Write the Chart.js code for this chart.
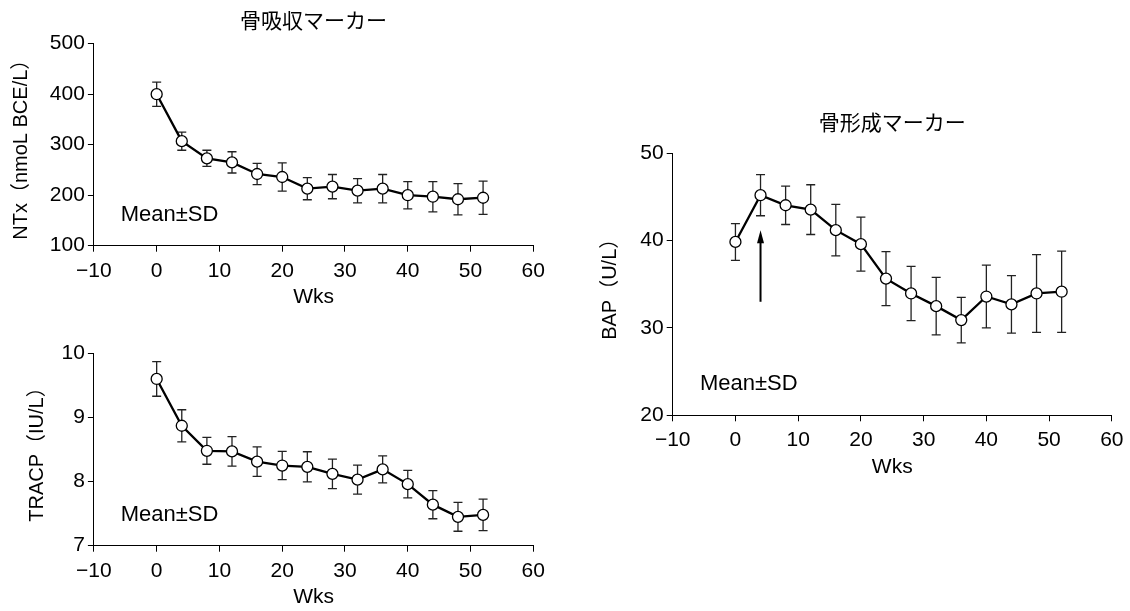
<!DOCTYPE html>
<html>
<head>
<meta charset="utf-8">
<script src="https://cdn.jsdelivr.net/npm/chart.js@4.4.1/dist/chart.umd.min.js"></script>
<style>
  body { margin: 0; background: #fff; width: 1130px; height: 611px; position: relative; overflow: hidden; }
  canvas { position: absolute; }
</style>
</head>
<body>
<canvas id="ntx" width="580" height="312" style="left:0;top:0"></canvas>
<canvas id="tracp" width="580" height="299" style="left:0;top:312px"></canvas>
<canvas id="bap" width="540" height="380" style="left:590px;top:100px"></canvas>
<script>
// weeks of treatment
const weeks = [0, 4, 8, 12, 16, 20, 24, 28, 32, 36, 40, 44, 48, 52];

// bone resorption markers
const ntxMean = [400, 307, 273, 265, 242, 236, 213, 217, 209, 213, 200, 197, 192, 195];
const ntxSd = [24, 18, 16, 21, 21, 28, 22, 24, 24, 28, 27, 30, 31, 33];
const tracpMean = [9.6, 8.87, 8.48, 8.47, 8.31, 8.25, 8.23, 8.12, 8.03, 8.19, 7.96, 7.64, 7.45, 7.48];
const tracpSd = [0.27, 0.25, 0.21, 0.23, 0.23, 0.22, 0.235, 0.23, 0.225, 0.21, 0.215, 0.22, 0.225, 0.245];

// bone formation marker
const bapMean = [39.85, 45.2, 44.05, 43.55, 41.2, 39.6, 35.65, 33.95, 32.5, 30.9, 33.6, 32.7, 33.95, 34.15];
const bapSd = [2.1, 2.35, 2.2, 2.85, 2.95, 3.1, 3.1, 3.1, 3.3, 2.6, 3.6, 3.3, 4.45, 4.65];

const xTicks = [-10, 0, 10, 20, 30, 40, 50, 60];

const FONT = "'Liberation Sans', Arial, 'Noto Sans CJK JP', sans-serif";
const CJK = "'Noto Sans CJK JP', sans-serif";

// error bars + Mean±SD label + optional arrow
const extras = {
  id: "extras",
  beforeDatasetsDraw(chart) {
    const { ctx, scales: { x, y } } = chart;
    const ds = chart.data.datasets[0];
    ctx.save();
    ctx.strokeStyle = "#222";
    ctx.lineWidth = 1.3;
    ds.data.forEach((p, i) => {
      const px = x.getPixelForValue(p.x);
      const top = y.getPixelForValue(p.y + ds.sd[i]);
      const bot = y.getPixelForValue(p.y - ds.sd[i]);
      ctx.beginPath();
      ctx.moveTo(px, top); ctx.lineTo(px, bot);
      ctx.moveTo(px - 4.5, top); ctx.lineTo(px + 4.5, top);
      ctx.moveTo(px - 4.5, bot); ctx.lineTo(px + 4.5, bot);
      ctx.stroke();
    });
    ctx.restore();
  },
  afterDraw(chart, args, opts) {
    const { ctx, scales: { x, y } } = chart;
    ctx.save();
    ctx.fillStyle = "#000";
    ctx.font = "22px " + FONT;
    ctx.textBaseline = "alphabetic";
    ctx.textAlign = "left";
    ctx.fillText("Mean±SD", x.getPixelForValue(opts.noteX), y.getPixelForValue(opts.noteY));
    if (opts.arrow) {
      const ax = x.getPixelForValue(opts.arrowX);
      const y0 = y.getPixelForValue(opts.arrowFrom);
      const y1 = y.getPixelForValue(opts.arrowTo);
      ctx.strokeStyle = "#000";
      ctx.lineWidth = 2;
      ctx.beginPath();
      ctx.moveTo(ax, y0); ctx.lineTo(ax, y1 + 10);
      ctx.stroke();
      ctx.beginPath();
      ctx.moveTo(ax, y1);
      ctx.lineTo(ax - 3.5, y1 + 13);
      ctx.lineTo(ax + 3.5, y1 + 13);
      ctx.closePath();
      ctx.fill();
    }
    ctx.restore();
  }
};

function makeChart(id, o) {
  return new Chart(document.getElementById(id), {
    type: "line",
    data: {
      datasets: [{
        data: weeks.map((w, i) => ({ x: w, y: o.mean[i] })),
        sd: o.sd,
        borderColor: "#000",
        borderWidth: 2.3,
        backgroundColor: "#fff",
        pointBackgroundColor: "#fff",
        pointBorderColor: "#000",
        pointBorderWidth: 1.3,
        pointRadius: 5.5,
        tension: 0
      }]
    },
    options: {
      responsive: false,
      animation: false,
      layout: { padding: { top: o.padTop, right: o.padRight, bottom: 0, left: 0 } },
      plugins: {
        legend: { display: false },
        tooltip: { enabled: false },
        title: {
          display: !!o.title,
          text: o.title,
          fullSize: false,
          color: "#000",
          font: { family: CJK, size: 21, weight: "normal" },
          padding: o.titlePad
        },
        extras: o.extras
      },
      scales: {
        x: {
          type: "linear",
          min: -10, max: 60,
          afterBuildTicks: (s) => { s.ticks = xTicks.map((v) => ({ value: v })); },
          afterFit: (s) => { s.height = o.xHeight; },
          border: { display: true, color: "#000", width: 1 },
          grid: { display: true, drawOnChartArea: false, drawTicks: true, tickLength: 6, color: "#000" },
          ticks: {
            color: "#000", padding: 6.5, maxRotation: 0,
            font: { family: FONT, size: 21 },
            callback: (v) => (v < 0 ? "\u2212" + Math.abs(v) : String(v))
          },
          title: {
            display: true, text: "Wks", color: "#000",
            font: { family: FONT, size: 21 },
            padding: { top: 0, bottom: o.xTitlePad }
          }
        },
        y: {
          min: o.yMin, max: o.yMax,
          afterBuildTicks: (s) => { s.ticks = o.yTicks.map((v) => ({ value: v })); },
          afterFit: (s) => { s.width = o.yWidth; },
          border: { display: true, color: "#000", width: 1 },
          grid: { display: true, drawOnChartArea: false, drawTicks: true, tickLength: 6, color: "#000" },
          ticks: {
            color: "#000", padding: 3,
            font: { family: FONT, size: 21 }
          },
          title: {
            display: true, text: o.yTitle, color: "#000",
            font: { family: FONT, size: 20 },
            padding: { top: o.yTitlePad, bottom: 0 }
          }
        }
      }
    },
    plugins: [extras]
  });
}

makeChart("ntx", {
  mean: ntxMean, sd: ntxSd,
  title: "骨吸収マーカー", titlePad: { top: 7.9, bottom: 10.6 },
  padTop: 0, padRight: 46.7,
  yMin: 100, yMax: 500, yTicks: [100, 200, 300, 400, 500],
  yTitle: "NTx（nmoL BCE/L）", yTitlePad: 9.4, yWidth: 93.9,
  xHeight: 66.3, xTitlePad: 1.9,
  extras: { noteX: -5.73, noteY: 149.5 }
});

makeChart("tracp", {
  mean: tracpMean, sd: tracpSd,
  title: "", titlePad: 0,
  padTop: 41.3, padRight: 46.7,
  yMin: 7, yMax: 10, yTicks: [7, 8, 9, 10],
  yTitle: "TRACP（IU/L）", yTitlePad: 25.5, yWidth: 93.9,
  xHeight: 65.3, xTitlePad: 0.9,
  extras: { noteX: -5.73, noteY: 7.39 }
});

makeChart("bap", {
  mean: bapMean, sd: bapSd,
  title: "骨形成マーカー", titlePad: { top: 9.9, bottom: 18.2 },
  padTop: 0, padRight: 16.7,
  yMin: 20, yMax: 50, yTicks: [20, 30, 40, 50],
  yTitle: "BAP（U/L）", yTitlePad: 8.6, yWidth: 82.7,
  xHeight: 64.7, xTitlePad: 0,
  extras: { noteX: -5.66, noteY: 22.9, arrow: true, arrowX: 4, arrowFrom: 33.0, arrowTo: 41.2 }
});
</script>
</body>
</html>
